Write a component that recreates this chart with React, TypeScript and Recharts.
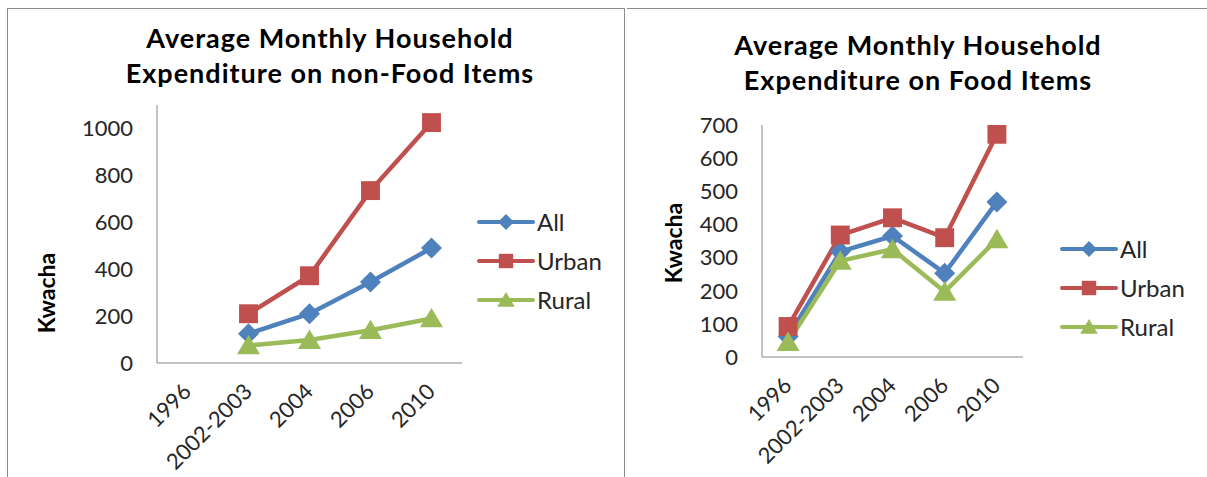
import React from 'react';
import { LineChart, Line, XAxis, YAxis, Legend } from 'recharts';

const years = ['1996', '2002-2003', '2004', '2006', '2010'];

// non-food expenditure (no 1996 survey value)
const nonFoodAll = [null, 125, 210, 345, 490];
const nonFoodUrban = [null, 210, 372, 735, 1025];
const nonFoodRural = [null, 75, 98, 140, 190];
const nonFoodTicks = [0, 200, 400, 600, 800, 1000];

// food expenditure
const foodAll = [62, 318, 365, 253, 468];
const foodUrban = [92, 368, 420, 360, 672];
const foodRural = [45, 290, 325, 197, 355];
const foodTicks = [0, 100, 200, 300, 400, 500, 600, 700];

const seriesNames = ['All', 'Urban', 'Rural'];
const colors = { All: '#4F81BD', Urban: '#C0504D', Rural: '#9BBB59' };
const FONT = 'Lato, "Open Sans", sans-serif';

const nonFoodData = years.map((y, i) => ({
  year: y, All: nonFoodAll[i], Urban: nonFoodUrban[i], Rural: nonFoodRural[i],
}));
const foodData = years.map((y, i) => ({
  year: y, All: foodAll[i], Urban: foodUrban[i], Rural: foodRural[i],
}));

const markerShape = (name: string, cx: number, cy: number, r: number, color: string) => {
  if (name === 'All') {
    return <polygon points={`${cx},${cy - r} ${cx + r},${cy} ${cx},${cy + r} ${cx - r},${cy}`} fill={color} />;
  }
  if (name === 'Urban') {
    return <rect x={cx - r * 0.9} y={cy - r * 0.9} width={r * 1.8} height={r * 1.8} fill={color} />;
  }
  return <polygon points={`${cx},${cy - r} ${cx + r * 1.1},${cy + r * 0.85} ${cx - r * 1.1},${cy + r * 0.85}`} fill={color} />;
};

const makeDot = (name: string) => (props: any) => {
  const { cx, cy, index } = props;
  if (cy == null || cx == null || isNaN(cy)) return <g key={index} />;
  return <g key={index}>{markerShape(name, cx, cy, 10.5, colors[name])}</g>;
};

const RotTick = (props: any) => {
  const { x, y, payload } = props;
  const tx = x + 5;
  const ty = y + 22;
  return (
    <text x={tx} y={ty} transform={`rotate(-45 ${tx} ${ty})`} textAnchor="end"
      fontSize={22} fill="#262626" fontFamily={FONT}>
      {payload.value}
    </text>
  );
};

const LegendBox = () => (
  <div style={{ fontFamily: FONT }}>
    {seriesNames.map((n) => (
      <div key={n} style={{ display: 'flex', alignItems: 'center', height: 39 }}>
        <svg width={58} height={24}>
          <line x1={2} y1={12} x2={56} y2={12} stroke={colors[n]} strokeWidth={4} strokeLinecap="round" />
          {markerShape(n, 29, 12, 8, colors[n])}
        </svg>
        <span style={{ fontSize: 24, color: '#262626', marginLeft: 2 }}>{n}</span>
      </div>
    ))}
  </div>
);

type PanelProps = {
  data: any[];
  width: number;
  domain: number[];
  ticks: number[];
  plot: { x0: number; x1: number; y0: number; y1: number };
  legend: { left: number; top: number };
};

const Panel = ({ data, width, domain, ticks, plot, legend }: PanelProps) => {
  const pad = (plot.x1 - plot.x0) / years.length / 2;
  return (
    <LineChart width={width} height={477} data={data}
      margin={{ top: plot.y0, left: plot.x0 - 60, right: width - plot.x1, bottom: 477 - plot.y1 - 60 }}>
      <XAxis dataKey="year" height={60} padding={{ left: pad, right: pad }} stroke="#868686"
        tickLine={false} interval={0} tick={<RotTick />} />
      <YAxis width={60} domain={domain} ticks={ticks} stroke="#868686" tickLine={false}
        tickSize={0} tickMargin={24} allowDataOverflow
        tick={{ fontSize: 22, fill: '#262626', fontFamily: FONT }} />
      <Legend layout="vertical" align="center" verticalAlign="middle" content={<LegendBox />}
        wrapperStyle={{ left: legend.left, top: legend.top, width: 'auto' }} />
      {seriesNames.map((n) => (
        <Line key={n} dataKey={n} name={n} stroke={colors[n]} strokeWidth={4.5}
          dot={makeDot(n)} activeDot={false} isAnimationActive={false} connectNulls={false} />
      ))}
    </LineChart>
  );
};

const titleStyle: React.CSSProperties = {
  position: 'absolute', fontFamily: FONT, fontWeight: 700, fontSize: 27, color: '#000',
  textAlign: 'center', lineHeight: '35px', width: 500, letterSpacing: 1,
};
const kwachaStyle: React.CSSProperties = {
  position: 'absolute', fontFamily: FONT, fontWeight: 700, fontSize: 23, color: '#000',
  transform: 'translate(-50%, -50%) rotate(-90deg)', whiteSpace: 'nowrap',
};

export default function App() {
  return (
    <div style={{ position: 'relative', width: 1207, height: 477, background: '#fff', overflow: 'hidden' }}>
      <style>{'body{margin:0}'}</style>
      {/* frames */}
      <div style={{ position: 'absolute', left: 7, top: 8, width: 616, height: 480, border: '1px solid #8c8c8c' }} />
      <div style={{ position: 'absolute', left: 627, top: 8, width: 600, borderTop: '1px solid #8c8c8c' }} />

      <div style={{ ...titleStyle, left: 330 - 250, top: 20 }}>
        Average Monthly Household<br />Expenditure on non-Food Items
      </div>
      <div style={{ ...titleStyle, left: 918 - 250, top: 27 }}>
        Average Monthly Household<br />Expenditure on Food Items
      </div>
      <div style={{ ...kwachaStyle, left: 46, top: 293 }}>Kwacha</div>
      <div style={{ ...kwachaStyle, left: 673, top: 243 }}>Kwacha</div>

      <div style={{ position: 'absolute', left: 0, top: 0 }}>
        <Panel data={nonFoodData} width={620} domain={[0, 1100]} ticks={nonFoodTicks}
          plot={{ x0: 157, x1: 462, y0: 105, y1: 363 }} legend={{ left: 477, top: 202 }} />
      </div>
      <div style={{ position: 'absolute', left: 620, top: 0 }}>
        <Panel data={foodData} width={587} domain={[0, 700]} ticks={foodTicks}
          plot={{ x0: 142, x1: 403, y0: 125, y1: 357 }} legend={{ left: 440, top: 229 }} />
      </div>
    </div>
  );
}
